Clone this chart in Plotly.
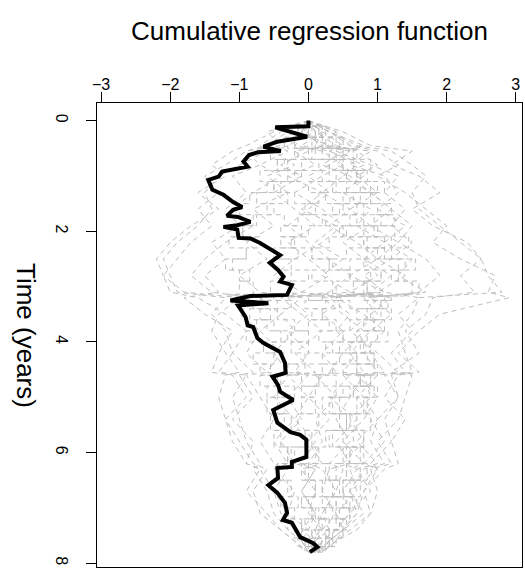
import plotly.graph_objects as go

# ---- observed cumulative regression function (time, value) ----
obs_time = [0.00, 0.10, 0.12, 0.29, 0.38, 0.47, 0.55, 0.57, 0.62, 0.74, 0.83, 0.92, 1.01, 1.07,
            1.25, 1.34, 1.47, 1.56, 1.61, 1.72, 1.74, 1.83, 1.89, 1.92, 1.97, 2.12, 2.13, 2.21,
            2.43, 2.57, 2.70, 2.82, 2.91, 2.97, 3.15, 3.17, 3.25, 3.30, 3.34, 3.55, 3.70, 3.73,
            3.93, 4.02, 4.18, 4.38, 4.56, 4.63, 4.78, 4.90, 5.05, 5.14, 5.23, 5.46, 5.63, 5.68,
            5.77, 6.08, 6.17, 6.26, 6.28, 6.46, 6.59, 6.73, 6.91, 7.09, 7.22, 7.27, 7.53, 7.64,
            7.71, 7.80]
obs_value = [0.00, 0.00, -0.48, -0.02, -0.45, -0.65, -0.40, -0.73, -0.86, -0.94, -0.88, -1.25, -1.30, -1.45,
             -1.39, -1.23, -1.09, -0.96, -1.09, -1.18, -1.02, -0.84, -1.03, -1.23, -1.03, -1.01, -0.84, -0.70,
             -0.41, -0.56, -0.44, -0.36, -0.41, -0.24, -0.31, -0.84, -1.13, -0.58, -1.02, -0.91, -0.88, -0.80,
             -0.74, -0.65, -0.41, -0.34, -0.33, -0.52, -0.44, -0.41, -0.22, -0.37, -0.51, -0.45, -0.26, -0.12,
             -0.03, -0.03, -0.24, -0.24, -0.45, -0.44, -0.58, -0.45, -0.34, -0.31, -0.37, -0.24, -0.12, 0.07,
             0.13, 0.02]

# ---- simulated processes (grey, dashed), set A on a common time grid ----
sim_time = [0.0, 0.2, 0.45, 0.55, 0.8, 1.0, 1.3, 1.6, 1.9, 2.2, 2.5, 2.8, 3.1, 3.2, 3.5, 3.8, 4.2,
            4.55, 4.6, 5.0, 5.4, 5.8, 6.2, 6.3, 6.7, 7.1, 7.4, 7.6, 7.8]
sim01 = [0, 0.3, 0.7, 1.2, 1.5, 1.7, 1.5, 1.6, 1.9, 2.2, 2.5, 2.6, 2.8, 1.6, 1.5, 1.3, 1.4, 1.5, 1.2, 1.3, 1.1, 1.2, 0.9, 1.0, 0.8, 0.7, 0.5, 0.3, 0.15]
sim02 = [0, -0.4, -0.7, -0.6, -1.0, -1.3, -1.5, -1.4, -1.6, -1.9, -2.1, -2.0, -1.9, -1.2, -1.4, -1.2, -1.1, -1.3, -0.9, -1.1, -1.0, -0.9, -0.7, -0.8, -0.6, -0.5, -0.3, -0.1, 0.05]
sim03 = [0, 0.2, 0.1, 0.6, 0.4, 0.8, 0.5, 0.9, 0.7, 1.1, 0.8, 1.2, 0.9, 0.3, 0.6, 0.4, 0.7, 0.5, 0.8, 0.6, 0.4, 0.6, 0.3, 0.5, 0.4, 0.2, 0.3, 0.1, 0.1]
sim04 = [0, -0.2, 0.3, -0.2, 0.1, -0.3, 0.2, -0.1, 0.4, 0.1, 0.5, 0.2, 0.6, -0.4, -0.1, 0.2, -0.2, 0.1, -0.3, 0.0, 0.3, 0.0, 0.2, -0.1, 0.1, 0.0, 0.2, 0.0, 0.1]
sim05 = [0, 0.5, 0.9, 1.5, 1.2, 1.6, 1.9, 1.5, 1.8, 2.3, 2.5, 2.2, 2.4, 1.8, 1.7, 1.4, 1.6, 1.2, 1.5, 1.4, 1.3, 1.0, 1.2, 0.9, 1.0, 0.9, 0.6, 0.4, 0.2]
sim06 = [0, 0.1, -0.3, -0.5, -0.2, -0.6, -0.3, -0.8, -0.5, -0.9, -0.6, -1.0, -0.7, -0.1, -0.4, -0.2, -0.5, -0.3, 0.0, -0.3, -0.1, -0.4, -0.2, 0.1, -0.1, 0.1, -0.1, 0.1, 0.05]
sim07 = [0, 0.4, 0.2, 0.9, 0.6, 1.1, 1.3, 1.0, 1.4, 1.1, 1.5, 1.3, 1.7, 0.8, 1.0, 0.7, 0.9, 1.1, 0.8, 0.9, 0.6, 0.8, 0.5, 0.7, 0.5, 0.6, 0.4, 0.2, 0.15]
sim08 = [0, -0.5, -0.9, -1.1, -1.4, -1.2, -1.6, -1.3, -1.7, -2.0, -2.2, -2.1, -1.8, -1.0, -1.3, -1.4, -1.2, -1.0, -1.2, -1.3, -1.2, -1.1, -0.9, -0.7, -0.9, -0.6, -0.4, -0.2, 0.0]
sim09 = [0, 0.2, 0.5, 0.3, 0.7, 0.5, 0.2, 0.6, 0.3, 0.7, 1.0, 0.6, 1.1, 0.2, 0.5, 0.8, 0.5, 0.3, 0.6, 0.3, 0.7, 0.4, 0.6, 0.3, 0.2, 0.4, 0.2, 0.3, 0.2]
sim10 = [0, -0.1, 0.2, 0.0, -0.4, -0.1, -0.5, -0.2, 0.1, -0.3, 0.0, 0.3, -0.1, -0.7, -0.4, -0.7, -0.4, -0.6, -0.3, -0.5, -0.2, -0.5, -0.3, -0.5, -0.2, -0.3, 0.0, -0.1, 0.0]
sim11 = [0, 0.3, 0.6, 1.0, 1.3, 1.0, 1.4, 1.7, 2.0, 1.8, 2.2, 2.7, 2.6, 2.9, 1.9, 1.6, 1.3, 1.6, 1.3, 1.1, 1.4, 1.2, 1.3, 1.1, 0.8, 0.9, 0.7, 0.4, 0.2]
sim12 = [0, 0.2, -0.1, 0.3, 0.8, 0.5, 0.9, 1.2, 0.9, 1.3, 1.0, 1.4, 1.0, 0.4, 0.8, 1.1, 0.8, 1.0, 0.7, 1.0, 0.8, 0.5, 0.8, 0.6, 0.7, 0.4, 0.5, 0.3, 0.1]
sim13 = [0, -0.3, -0.6, -0.9, -0.7, -1.1, -0.9, -1.2, -1.0, -1.4, -1.2, -1.5, -1.3, -1.8, -1.5, -1.1, -1.3, -1.4, -1.1, -0.9, -1.2, -1.0, -0.8, -0.6, -0.8, -0.7, -0.4, -0.2, -0.05]
sim14 = [0, 0.1, 0.4, 0.7, 1.0, 0.7, 1.0, 0.6, 0.9, 0.5, 0.8, 1.0, 0.6, 1.2, 0.9, 0.6, 1.0, 1.3, 1.0, 0.7, 0.9, 1.1, 0.8, 1.0, 0.6, 0.8, 0.5, 0.3, 0.15]
sim15 = [0, -0.2, -0.5, -0.3, -0.7, -0.4, -0.8, -1.1, -0.8, -1.2, -1.5, -1.7, -1.4, -0.8, -1.0, -0.7, -0.9, -0.6, -0.9, -0.7, -0.5, -0.7, -0.5, -0.3, -0.5, -0.3, -0.2, 0.0, 0.1]
sim16 = [0, 0.3, 0.8, 0.5, 0.2, 0.6, 0.9, 1.2, 1.5, 1.3, 1.7, 1.9, 1.6, 0.9, 1.2, 0.9, 0.6, 0.8, 0.5, 0.8, 1.0, 0.7, 1.0, 0.7, 0.9, 0.6, 0.4, 0.2, 0.1]
sim17 = [0, 0.0, -0.2, 0.2, 0.5, 0.2, -0.2, 0.2, 0.5, 0.2, -0.2, -0.5, -0.1, 0.5, 0.2, 0.5, 0.2, 0.4, 0.1, 0.4, 0.1, 0.2, 0.0, 0.2, 0.4, 0.2, 0.1, 0.2, 0.1]
sim18 = [0, -0.6, -0.4, -0.9, -1.2, -1.5, -1.3, -1.6, -1.4, -1.7, -1.9, -2.1, -2.0, -1.6, -1.2, -0.9, -1.1, -0.8, -1.0, -0.8, -1.1, -0.8, -0.9, -0.7, -0.5, -0.4, -0.2, -0.1, 0.0]
sim19 = [0, 0.4, 0.6, 0.4, 0.9, 1.3, 1.1, 1.4, 1.2, 1.5, 1.2, 0.8, 1.1, 1.6, 1.3, 1.5, 1.2, 1.4, 1.1, 1.3, 1.0, 0.9, 1.1, 0.8, 0.6, 0.7, 0.5, 0.4, 0.2]
sim20 = [0, -0.1, 0.3, 0.6, 0.3, 0.0, 0.3, 0.0, -0.3, 0.0, 0.3, 0.6, 0.3, -0.3, 0.0, -0.3, 0.0, -0.2, 0.2, 0.0, -0.2, 0.1, -0.1, 0.1, -0.1, 0.1, 0.0, 0.1, 0.0]
sims_a = [sim01, sim02, sim03, sim04, sim05, sim06, sim07, sim08, sim09, sim10,
          sim11, sim12, sim13, sim14, sim15, sim16, sim17, sim18, sim19, sim20]

# ---- simulated processes, set B (step functions) on a finer time grid ----
sim_time_b = [0.0, 0.1, 0.3, 0.5, 0.7, 0.9, 1.1, 1.3, 1.5, 1.7, 1.9, 2.1, 2.3, 2.5, 2.7, 2.9,
              3.14, 3.17, 3.25, 3.4, 3.6, 3.8, 4.0, 4.2, 4.4, 4.6, 4.8, 5.0, 5.3, 5.6, 5.9, 6.2,
              6.5, 6.8, 7.0, 7.2, 7.4, 7.55, 7.7, 7.8]
simB01 = [0, 0.1, 0.35, 0.2, 0.5, 0.75, 0.55, 0.9, 0.7, 0.6, 0.95, 1.2, 1.0, 1.3, 1.05, 0.85, 1.1, 0.4, 0.6, 0.85, 0.6, 0.5, 0.8, 0.95, 0.7, 0.9, 0.65, 0.45, 0.7, 0.5, 0.75, 0.55, 0.35, 0.6, 0.4, 0.5, 0.3, 0.35, 0.15, 0.1]
simB02 = [0, -0.1, -0.3, -0.15, -0.45, -0.3, -0.6, -0.75, -0.5, -0.8, -0.95, -0.7, -0.9, -1.1, -0.85, -1.0, -1.2, -0.6, -0.8, -0.55, -0.75, -0.9, -0.65, -0.5, -0.7, -0.45, -0.6, -0.35, -0.55, -0.4, -0.25, -0.45, -0.3, -0.15, -0.3, -0.1, -0.2, 0.0, -0.05, 0.05]
simB03 = [0, 0.2, 0.05, 0.4, 0.15, 0.3, 0.0, 0.25, 0.45, 0.2, 0.5, 0.3, 0.05, 0.35, 0.6, 0.4, 0.7, 0.2, 0.45, 0.2, 0.4, 0.15, 0.35, 0.6, 0.35, 0.15, 0.4, 0.2, 0.45, 0.25, 0.1, 0.3, 0.5, 0.3, 0.1, 0.3, 0.15, 0.25, 0.1, 0.15]
simB04 = [0, -0.05, 0.2, 0.5, 0.3, 0.7, 0.9, 0.65, 1.0, 1.25, 1.0, 0.8, 1.1, 1.4, 1.2, 1.5, 1.3, 0.9, 1.15, 0.9, 1.1, 0.85, 0.6, 0.85, 1.0, 0.75, 0.95, 0.7, 0.9, 0.65, 0.8, 0.55, 0.75, 0.5, 0.6, 0.4, 0.5, 0.3, 0.2, 0.2]
simB05 = [0, 0.1, -0.2, 0.05, -0.3, -0.1, -0.4, -0.2, 0.1, -0.15, -0.4, -0.2, -0.5, -0.25, 0.0, -0.3, -0.1, -0.7, -0.45, -0.7, -0.5, -0.3, -0.55, -0.35, -0.15, -0.4, -0.2, -0.45, -0.25, -0.05, -0.3, -0.1, 0.1, -0.1, 0.05, -0.1, 0.05, -0.05, 0.05, 0.0]
simB06 = [0, 0.2, 0.45, 0.7, 0.5, 0.85, 1.1, 0.9, 1.2, 0.95, 1.25, 1.45, 1.2, 1.55, 1.3, 1.6, 1.4, 0.8, 1.05, 1.2, 0.95, 1.15, 0.9, 0.7, 0.95, 0.75, 1.0, 0.8, 0.55, 0.8, 0.6, 0.85, 0.6, 0.4, 0.6, 0.45, 0.25, 0.35, 0.2, 0.15]
simB07 = [0, -0.15, -0.35, -0.55, -0.35, -0.7, -0.5, -0.85, -1.0, -0.75, -0.95, -1.15, -0.9, -1.2, -1.0, -0.8, -1.05, -0.4, -0.65, -0.85, -0.6, -0.4, -0.65, -0.8, -0.55, -0.7, -0.45, -0.6, -0.35, -0.5, -0.3, -0.45, -0.25, -0.4, -0.2, -0.3, -0.1, -0.15, 0.0, 0.05]
simB08 = [0, 0.05, 0.25, 0.0, 0.3, 0.55, 0.35, 0.6, 0.35, 0.7, 0.45, 0.8, 0.55, 0.3, 0.6, 0.85, 0.6, 0.0, 0.25, 0.05, 0.3, 0.5, 0.25, 0.45, 0.2, 0.4, 0.6, 0.35, 0.55, 0.3, 0.5, 0.25, 0.45, 0.2, 0.35, 0.15, 0.3, 0.1, 0.2, 0.1]
simB09 = [0, -0.1, 0.1, -0.2, -0.45, -0.2, -0.5, -0.3, -0.6, -0.35, -0.1, -0.4, -0.15, -0.5, -0.25, -0.55, -0.3, 0.2, -0.05, 0.2, 0.0, -0.25, 0.0, 0.2, -0.05, 0.15, -0.1, 0.1, -0.15, 0.05, -0.2, 0.0, 0.2, 0.0, 0.15, -0.05, 0.1, 0.0, 0.1, 0.05]
simB10 = [0, 0.25, 0.5, 0.3, 0.65, 0.4, 0.75, 0.5, 0.8, 1.05, 0.8, 1.1, 0.85, 0.6, 0.9, 0.65, 0.95, 1.2, 0.95, 0.7, 0.95, 0.7, 0.45, 0.7, 0.5, 0.75, 0.5, 0.3, 0.55, 0.35, 0.6, 0.4, 0.2, 0.4, 0.25, 0.45, 0.25, 0.3, 0.15, 0.15]
simB11 = [0, 0.0, -0.2, 0.1, -0.1, 0.2, 0.4, 0.15, -0.05, 0.25, 0.0, -0.25, 0.05, 0.3, 0.05, 0.35, 0.1, -0.5, -0.25, -0.45, -0.2, 0.0, -0.25, -0.05, -0.3, -0.1, 0.1, -0.1, 0.15, -0.05, 0.15, -0.05, 0.1, -0.1, 0.05, 0.2, 0.05, 0.15, 0.05, 0.1]
simB12 = [0, 0.15, 0.4, 0.65, 0.9, 0.7, 1.0, 0.75, 0.5, 0.8, 0.55, 0.85, 1.1, 0.8, 1.05, 0.8, 0.55, 1.1, 0.85, 1.05, 0.8, 1.0, 0.75, 0.95, 0.7, 0.9, 0.65, 0.85, 0.6, 0.8, 0.55, 0.75, 0.5, 0.7, 0.45, 0.55, 0.35, 0.4, 0.25, 0.2]
sims_b = [simB01, simB02, simB03, simB04, simB05, simB06, simB07, simB08, simB09, simB10, simB11, simB12]

x_ticks = [-3, -2, -1, 0, 1, 2, 3]
y_ticks = [0, 2, 4, 6, 8]

grey_line = dict(color="#BEBEBE", width=1, dash="5px,4px")

fig = go.Figure()
for s in sims_a:
    fig.add_trace(go.Scatter(x=s, y=sim_time[:len(s)], mode="lines", line=grey_line,
                             hoverinfo="skip", showlegend=False))
for s in sims_b:
    fig.add_trace(go.Scatter(x=s, y=sim_time_b[:len(s)], mode="lines",
                             line=dict(grey_line, shape="vh"),
                             hoverinfo="skip", showlegend=False))
fig.add_trace(go.Scatter(x=obs_value, y=obs_time, mode="lines",
                         line=dict(color="black", width=4),
                         hoverinfo="skip", showlegend=False))

font_family = "Liberation Sans, Arial, sans-serif"
fig.update_layout(
    width=525, height=573,
    margin=dict(l=97, r=3, t=103, b=6),
    plot_bgcolor="white", paper_bgcolor="white",
    font=dict(family=font_family, color="black", size=16),
    showlegend=False,
    xaxis=dict(side="top", range=[-3.06, 3.09], tickmode="array", tickvals=x_ticks,
               ticktext=[("\u2212" + str(-v)) if v < 0 else str(v) for v in x_ticks],
               ticks="outside", ticklen=10, tickwidth=1, tickcolor="black",
               ticklabelstandoff=-4,
               showline=True, mirror=True, linecolor="black", linewidth=1,
               showgrid=False, zeroline=False, tickfont=dict(size=16)),
    yaxis=dict(range=[8.07, -0.32], tickmode="array", tickvals=y_ticks,
               ticktext=[str(v) for v in y_ticks], tickangle=90,
               ticks="outside", ticklen=10, tickwidth=1, tickcolor="black",
               ticklabelstandoff=11,
               showline=True, mirror=True, linecolor="black", linewidth=1,
               showgrid=False, zeroline=False, tickfont=dict(size=16)),
    annotations=[
        dict(text="Cumulative regression function", xref="paper", yref="paper",
             x=0.5, y=(567 - 31) / 464, xanchor="center", yanchor="middle",
             showarrow=False, font=dict(size=26)),
        dict(text="Time (years)", xref="paper", yref="paper",
             x=(26 - 97) / 425, y=0.5, xanchor="center", yanchor="middle",
             textangle=90, showarrow=False, font=dict(size=26)),
    ],
)

fig.write_html("out.html")
